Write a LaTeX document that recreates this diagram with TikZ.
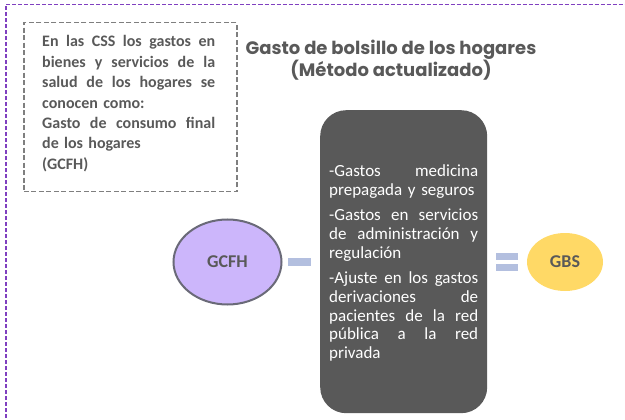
\documentclass[tikz,border=0pt]{standalone}
\usepackage{fontspec}
\setmainfont{Carlito}
\newfontfamily\titlefont{Poppins}
\usetikzlibrary{shapes.geometric}
\definecolor{txtgray}{HTML}{595959}
\definecolor{boxgray}{HTML}{7F7F7F}
\definecolor{framepurple}{HTML}{8040C0}
\definecolor{darkbox}{HTML}{595959}
\definecolor{lavender}{HTML}{CCB6FB}
\definecolor{ellborder}{HTML}{6A6A78}
\definecolor{gold}{HTML}{FFD966}
\definecolor{opblue}{HTML}{B3BFDF}
\newcommand{\jline}[2]{\leavevmode\hbox to #1{\spaceskip=0.25em plus 1fil\relax #2}\\}
\tikzset{
  frame/.style={draw=framepurple, line width=1.4pt, dash pattern=on 4pt off 2pt},
  notebox/.style={draw=boxgray, line width=1.5pt, dash pattern=on 5pt off 2.5pt},
  notetext/.style={anchor=base west, inner sep=0pt, text width=173pt, align=left, text=txtgray, font=\fontsize{16}{20.4}\selectfont\bfseries},
  listtext/.style={anchor=base west, inner sep=0pt, text width=149pt, align=left, text=white, font=\fontsize{17}{18.8}\selectfont},
  titletext/.style={align=center, text=txtgray, font=\titlefont\fontsize{18}{22}\selectfont\bfseries},
  opbar/.style={fill=opblue, draw=none},
  labeltext/.style={text=txtgray, font=\fontsize{18}{20}\selectfont\bfseries}
}
\begin{document}
\begin{tikzpicture}[x=1pt, y=-1pt]
\useasboundingbox (0,0) rectangle (625,420);
% outer purple frame (cut by the page)
\draw[frame] (6,430) -- (6,4.5) -- (640,4.5);
% note box
\node[notebox, minimum width=213pt, minimum height=169pt, anchor=north west] (note) at (23,22) {};
\node[notetext] (notetxt) at (42,47) {%
\jline{173pt}{En las CSS los gastos en}
\jline{173pt}{bienes y servicios de la}
\jline{173pt}{salud de los hogares se}
conocen como:\\
\jline{173pt}{Gasto de consumo final}
de los hogares\\
(GCFH)};
% title
\node[titletext] (title) at (391,60) {Gasto de bolsillo de los hogares\\(Método actualizado)};
% dark box
\node[fill=darkbox, rounded corners=26pt, minimum width=167pt, minimum height=303pt, anchor=north west] (dark) at (320,110) {};
\node[listtext] (list) at (329,176.5) {%
\jline{149pt}{-Gastos medicina}
prepagada y seguros\\[6.5pt]
\jline{149pt}{-Gastos en servicios}
\jline{149pt}{de administración y}
regulación\\[6.5pt]
\jline{149pt}{-Ajuste en los gastos}
\jline{149pt}{derivaciones de}
\jline{149pt}{pacientes de la red}
\jline{149pt}{pública a la red}
privada};
% GCFH ellipse
\node[ellipse, draw=ellborder, line width=2pt, fill=lavender, minimum width=108pt, minimum height=85pt, labeltext] (gcfh) at (227.5,262) {GCFH};
% GBS ellipse
\node[ellipse, fill=gold, minimum width=76pt, minimum height=58pt, labeltext] (gbs) at (565,262) {GBS};
% minus sign
\node[opbar, minimum width=23pt, minimum height=7.5pt, inner sep=0pt] (minus) at (299.5,262) {};
% equals sign
\node[opbar, minimum width=22pt, minimum height=7pt, inner sep=0pt] (eqtop) at (507,256.5) {};
\node[opbar, minimum width=22pt, minimum height=7pt, inner sep=0pt] (eqbot) at (507,267.5) {};
\end{tikzpicture}
\end{document}
